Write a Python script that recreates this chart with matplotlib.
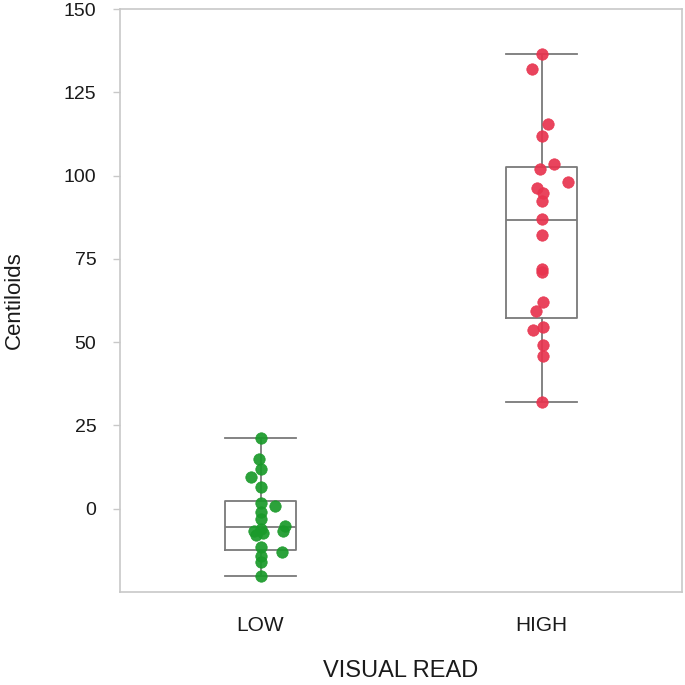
import matplotlib
matplotlib.use("Agg")
import matplotlib.pyplot as plt
import numpy as np

plt.rcParams['font.family'] = ['Liberation Sans', 'DejaVu Sans']

categories = ["LOW", "HIGH"]

low_values = [21.2, 14.9, 11.9, 9.4, 6.4, 1.6, 0.9, -1.1, -3.1, -5.1, -6.6, -6.6,
              -6.1, -7.3, -7.8, -11.6, -13.1, -14.1, -16.1, -20.1]
low_offsets_px = [0, -1, 0, -9, 0, 0, 14, 0, 0, 24, 22, -6, 0, 2, -4, 0, 21, 0, 0, 0]

high_values = [136.4, 132.1, 115.6, 111.9, 103.4, 102.1, 98.2, 96.4, 94.9, 92.4,
               86.9, 82.2, 71.9, 71.0, 61.9, 59.4, 54.6, 53.6, 49.2, 45.7, 32.1]
high_offsets_px = [0, -9, 6, 0, 12, -1, 26, -4, 1, 0, 0, 0, 0, 0, 1, -5, 1, -8, 1, 1, 0]

# box statistics: whisker low, q1, median, q3, whisker high
low_box = [-20.2, -12.4, -5.4, 2.4, 21.2]
high_box = [32.1, 57.2, 86.7, 102.7, 136.4]

y_ticks = [0, 25, 50, 75, 100, 125, 150]

fig = plt.figure(figsize=(6.85, 6.85), dpi=100)
ax = fig.add_axes([120/685, 93/685, 562/685, 583/685])

stats = []
for lbl, b in zip(categories, [low_box, high_box]):
    stats.append(dict(label=lbl, whislo=b[0], q1=b[1], med=b[2], q3=b[3], whishi=b[4], fliers=[]))

box_col = "#7a7a7a"
ax.bxp(stats, positions=[0, 1], widths=0.25, showfliers=False,
       boxprops=dict(color=box_col, linewidth=1.3),
       whiskerprops=dict(color=box_col, linewidth=1.3),
       capprops=dict(color=box_col, linewidth=1.3),
       medianprops=dict(color=box_col, linewidth=1.3),
       capwidths=0.25, zorder=1)

px_per_unit = 280.0
colors = ["#1a9a2a", "#e8344f"]
for i, (vals, offs) in enumerate([(low_values, low_offsets_px), (high_values, high_offsets_px)]):
    xs = i + np.array(offs) / px_per_unit
    ax.scatter(xs, vals, s=68, color=colors[i], edgecolors=colors[i], linewidths=0.5,
               alpha=0.92, zorder=3)

ax.set_xlim(-0.5, 1.5)
ax.set_ylim(-25, 150)
ax.set_yticks(y_ticks)
ax.set_xticks([0, 1])
ax.set_xticklabels(categories)

spine_col = "#c8c8c8"
for s in ax.spines.values():
    s.set_color(spine_col)
    s.set_linewidth(1.2)
ax.tick_params(axis='y', colors=spine_col, length=5, width=1.0, labelcolor="#1a1a1a",
               labelsize=14, pad=12)
ax.tick_params(axis='x', length=0, labelcolor="#1a1a1a", labelsize=15, pad=17)

ax.set_ylabel("Centiloids", fontsize=16, color="#1a1a1a", labelpad=28)
ax.set_xlabel("VISUAL READ", fontsize=17, color="#1a1a1a", labelpad=18)

fig.savefig("out.png", dpi=100)
